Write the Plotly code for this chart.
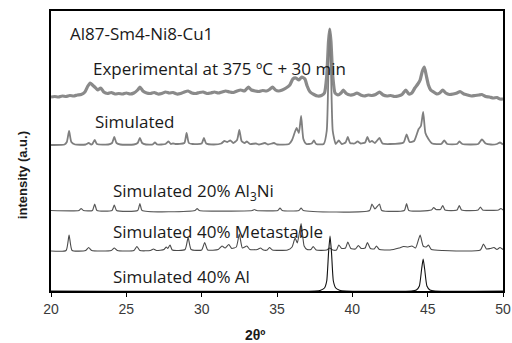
import plotly.graph_objects as go

# ---- data (2theta in degrees, intensity in arbitrary offset units) ----
exp_x = [20.0, 20.25, 20.5, 20.75, 21.0, 21.25, 21.5, 21.75, 22.0, 22.25, 22.45, 22.6, 22.75, 22.9, 23.1, 23.3, 23.5,
         23.75, 24.0, 24.25, 24.5, 24.75, 25.0, 25.25, 25.5, 25.75, 25.9, 26.1, 26.35, 26.6, 26.85, 27.1, 27.35, 27.6,
         27.85, 28.1, 28.35, 28.6, 28.85, 29.1, 29.35, 29.6, 29.85, 30.1, 30.35, 30.6, 30.85, 31.1, 31.35, 31.6, 31.85,
         32.1, 32.35, 32.6, 32.85, 33.1, 33.3, 33.55, 33.8, 34.05, 34.3, 34.5, 34.7, 34.9, 35.1, 35.35, 35.6, 35.85,
         36.05, 36.25, 36.45, 36.65, 36.85, 37.0, 37.2, 37.45, 37.7, 37.95, 38.15, 38.3, 38.42, 38.5, 38.58, 38.7,
         38.85, 39.05, 39.25, 39.4, 39.6, 39.85, 40.1, 40.3, 40.55, 40.8, 41.05, 41.3, 41.55, 41.8, 42.05, 42.3,
         42.55, 42.8, 43.05, 43.3, 43.55, 43.75, 43.95, 44.15, 44.35, 44.5, 44.65, 44.78, 44.9, 45.05, 45.2, 45.4,
         45.6, 45.8, 46.0, 46.2, 46.45, 46.7, 46.95, 47.15, 47.4, 47.65, 47.9, 48.15, 48.4, 48.6, 48.85, 49.1, 49.35,
         49.6, 49.8, 50.0]
exp_y = [194, 194.5, 194, 195, 194.5, 195.5, 195, 196, 196.5, 199, 205, 208, 206, 204, 201, 203, 199,
         197.5, 198.5, 197, 197.5, 197, 198, 197, 198, 201, 204, 200, 198, 197.5, 198.5, 197, 197.5, 199,
         198, 198.5, 197, 197.5, 199, 200, 198, 197.5, 198.5, 199, 197.5, 198, 199, 198, 199, 200, 199,
         198.5, 200, 201, 200, 204, 201, 200, 199.5, 200.5, 200, 201.5, 204, 201, 200, 201, 203, 206,
         212, 213, 211, 214, 212, 205, 199, 196.5, 195, 195.5, 198, 215, 250, 262, 250, 215,
         198, 196, 198, 201, 197.5, 196, 196.5, 198, 196, 195, 196, 195.5, 196.5, 199, 196, 195,
         195.5, 194.5, 195, 196.5, 201, 197, 198, 203, 207, 211, 220, 224, 216, 206, 201, 199,
         197, 198, 201, 198, 196.5, 197, 198, 199.5, 197, 196, 195, 195.5, 196, 196.5, 194.5, 194, 193,
         193.5, 192, 192]

sim_x = [20.0, 20.9, 21.05, 21.2, 21.35, 21.6, 22.3, 22.5, 22.65, 22.75, 22.9, 23.05, 23.8, 24.05, 24.2, 24.35,
         24.6, 25.5, 25.75, 25.9, 26.05, 26.3, 26.75, 26.9, 27.05, 27.6, 27.8, 27.95, 28.1, 28.25, 28.85, 29.0,
         29.15, 29.4, 30.0, 30.15, 30.3, 30.8, 31.3, 31.5, 31.7, 31.9, 32.1, 32.35, 32.5, 32.65, 32.85, 33.0,
         33.2, 33.6, 33.8, 34.2, 34.4, 34.8, 35.0, 35.8, 36.0, 36.3, 36.45, 36.6, 36.75, 36.95, 37.3, 37.45,
         37.6, 38.1, 38.3, 38.42, 38.5, 38.58, 38.7, 38.9, 39.1, 39.3, 39.55, 39.7, 39.85, 40.15, 40.35, 40.55,
         40.85, 41.0, 41.15, 41.3, 41.5, 41.8, 42.0, 42.5, 43.4, 43.6, 43.8, 44.1, 44.4, 44.55, 44.7, 44.85,
         45.05, 45.3, 45.9, 46.1, 46.3, 46.95, 47.1, 47.3, 48.35, 48.6, 48.85, 49.2, 49.6, 49.8, 50.0]
sim_y = [146, 146.5, 149, 160, 149, 146.5, 146.5, 148, 146.5, 147, 151, 147, 146.5, 148, 154, 148,
         146.5, 146.5, 148, 153, 148, 146.5, 146.5, 148.5, 146.5, 147, 149.5, 147, 147.5, 147, 148, 158,
         148, 147, 147.5, 153, 147.5, 146.5, 147.5, 150, 149, 150.5, 148, 151, 161, 150, 148, 149.5,
         147, 147.5, 146.5, 148, 146.5, 148, 146.5, 147, 151, 163, 158, 175, 152, 147, 147.5, 150.5,
         147, 147, 160, 225, 262, 225, 160, 147, 150.5, 147, 148.5, 154, 148, 147.5, 149.5, 147.5,
         148.5, 154, 149, 150, 148, 153, 147.5, 147, 148.5, 156.5, 149, 150, 162, 165, 179, 158,
         152, 147.5, 147, 150.5, 147, 147, 149.5, 147, 147, 151.5, 147.5, 146.5, 147, 148.5, 146.5]

al3ni_x = [20.0, 21.85, 22.0, 22.15, 22.75, 22.9, 23.05, 24.05, 24.2, 24.35, 25.75, 25.9, 26.05, 29.55, 29.7,
           29.85, 33.35, 33.5, 33.65, 35.05, 35.2, 35.35, 36.45, 36.6, 36.75, 41.15, 41.3, 41.5, 41.8, 41.95,
           43.45, 43.6, 43.75, 45.25, 45.4, 45.55, 45.85, 46.0, 46.15, 46.95, 47.1, 47.25, 48.35, 48.5, 48.65,
           49.7, 49.85, 50.0]
al3ni_y = [80.5, 80.5, 82.5, 80.5, 80.5, 87, 80.5, 80.5, 86, 80.5, 80.5, 87.5, 80.5, 80.5, 82.5,
           80.5, 80.5, 81.5, 80.5, 80.5, 83, 80.5, 80.5, 83, 80.5, 80.5, 87, 82, 87, 80.5,
           80.5, 87.5, 80.5, 81, 83.5, 81.5, 81.5, 85.5, 81, 81, 85.5, 81, 81, 84, 81,
           81, 82.5, 81]

meta_x = [20.0, 21.0, 21.2, 21.4, 22.3, 22.5, 22.7, 24.0, 24.2, 24.4, 25.5, 25.7, 25.9, 26.6, 26.8, 27.0, 27.5,
          27.65, 27.75, 27.9, 28.05, 28.9, 29.1, 29.3, 30.0, 30.2, 30.4, 31.1, 31.35, 31.55, 31.8, 32.0, 32.3,
          32.5, 32.7, 33.0, 33.2, 33.7, 33.9, 34.1, 34.35, 34.5, 34.7, 35.7, 36.0, 36.2, 36.35, 36.6, 36.8, 37.0,
          37.25, 37.4, 37.6, 38.3, 38.5, 38.7, 38.95, 39.1, 39.3, 39.55, 39.7, 39.9, 40.2, 40.4, 40.6, 40.85,
          41.0, 41.2, 41.45, 41.6, 41.8, 42.5, 43.1, 43.4, 43.7, 43.95, 44.2, 44.5, 44.7, 44.9, 45.05, 45.25,
          46.0, 48.5, 48.7, 48.9, 49.15, 49.4, 49.6, 49.8, 50.0]
meta_y = [40, 40.5, 56, 40.5, 40.5, 43.5, 40.5, 40.5, 43, 40.5, 40.5, 44.5, 40.5, 40.5, 42, 40.5, 41.5,
          44, 42.5, 46, 41, 41.5, 53.5, 41.5, 41, 48.5, 41, 41.5, 45, 43, 46.5, 42.5, 44,
          57, 43, 45, 41.5, 41.5, 43, 41, 41, 43.5, 41, 41, 44, 53, 48, 67.5, 45, 41.5,
          41.5, 44.5, 41, 41, 43, 41, 41, 46, 42.5, 43, 49, 42.5, 42, 45.5, 42.5, 43,
          48.5, 42.5, 42, 45, 41.5, 41, 43, 44.5, 44, 45, 43, 56, 45, 44, 46, 41.5,
          40.5, 41, 47, 42, 42.5, 43.5, 41.5, 43.5, 41.5]

al_x = [20.0, 37.5, 37.9, 38.15, 38.3, 38.42, 38.52, 38.62, 38.74, 38.9, 39.15, 39.6, 43.9, 44.25, 44.45,
        44.6, 44.7, 44.8, 44.95, 45.15, 45.5, 50.0]
al_y = [0, 0, 0.8, 3, 10, 38, 55, 38, 10, 3, 0.8, 0, 0, 1, 5, 22, 32, 22, 5, 1, 0, 0]

x_ticks = [20, 25, 30, 35, 40, 45, 50]

labels = ["Al87-Sm4-Ni8-Cu1", "Experimental at 375 ºC + 30 min", "Simulated",
          "Simulated 20% Al<sub>3</sub>Ni", "Simulated 40% Metastable", "Simulated 40% Al"]
label_x = [21.13, 22.65, 22.79, 23.98, 23.98, 23.98]
label_y = [258, 223, 170, 99.5, 60, 15]

SM = 0.5
fig = go.Figure()
fig.add_trace(go.Scatter(x=exp_x, y=exp_y, mode="lines", line=dict(color="#8a8a8a", width=3.2, shape="spline", smoothing=SM)))
fig.add_trace(go.Scatter(x=sim_x, y=sim_y, mode="lines", line=dict(color="#7f7f7f", width=1.8, shape="spline", smoothing=SM)))
fig.add_trace(go.Scatter(x=al3ni_x, y=al3ni_y, mode="lines", line=dict(color="#5a5a5a", width=1.2, shape="spline", smoothing=SM)))
fig.add_trace(go.Scatter(x=meta_x, y=meta_y, mode="lines", line=dict(color="#4a4a4a", width=1.1, shape="spline", smoothing=SM)))
fig.add_trace(go.Scatter(x=al_x, y=al_y, mode="lines", line=dict(color="#111111", width=1.1, shape="spline", smoothing=SM)))

FONT = "Open Sans"
for t, lx, ly in zip(labels, label_x, label_y):
    fig.add_annotation(x=lx, y=ly, xref="x", yref="y", text=t, showarrow=False,
                       xanchor="left", yanchor="middle",
                       font=dict(family=FONT, size=17, color="#1a1a1a"))

fig.add_annotation(x=-0.064, y=0.414, xref="paper", yref="paper", text="<b>intensity (a.u.)</b>",
                   showarrow=False, textangle=-90, xanchor="center", yanchor="middle",
                   font=dict(family="Liberation Sans", size=13, color="#1a1a1a"))
fig.add_annotation(x=0.451, y=-0.157, xref="paper", yref="paper", text="<b>2θº</b>",
                   showarrow=False, xanchor="center", yanchor="middle",
                   font=dict(family="Liberation Sans", size=14, color="#1a1a1a"))

fig.update_layout(
    width=512, height=343, margin=dict(l=51, r=9, t=11, b=52, autoexpand=False),
    paper_bgcolor="white", plot_bgcolor="white", showlegend=False,
    xaxis=dict(range=[20, 50], tickvals=x_ticks, ticktext=[str(v) for v in x_ticks],
               ticks="outside", ticklen=4, tickcolor="black", tickwidth=1,
               showline=True, linecolor="black", linewidth=1.5, mirror=True,
               showgrid=False, zeroline=False, automargin=False,
               tickfont=dict(family="Liberation Sans", size=14, color="#3a3a3a")),
    yaxis=dict(range=[0, 280], showticklabels=False, ticks="",
               showline=True, linecolor="black", linewidth=1.5, mirror=True,
               showgrid=False, zeroline=False, automargin=False),
)

fig.write_html("out.html")
